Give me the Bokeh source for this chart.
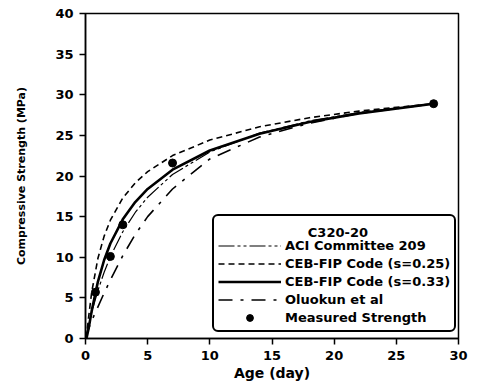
from bokeh.plotting import figure
from bokeh.models import Range1d, FixedTicker, Legend, LegendItem, ColumnDataSource, Label
from bokeh.embed import file_html
from bokeh.resources import INLINE

# ---- data ----
ages = [0, 0.1, 0.25, 0.5, 1, 1.5, 2, 3, 4, 5, 7, 10, 14, 18, 22, 28]
aci_209 = [0, 0.70, 1.70, 3.24, 5.92, 8.16, 10.07, 13.14, 15.51, 17.39, 20.19, 22.96, 25.27, 26.77, 27.81, 28.9]
ceb_025 = [0, 0.57, 2.64, 5.71, 9.88, 12.60, 14.56, 17.29, 19.15, 20.54, 22.51, 24.42, 26.06, 27.17, 27.99, 28.9]
ceb_033 = [0, 0.16, 1.23, 3.40, 7.01, 9.66, 11.69, 14.67, 16.79, 18.41, 20.78, 23.14, 25.21, 26.64, 27.71, 28.9]
oluokun = [0, 0.5, 1.2, 2.2, 3.9, 5.6, 7.2, 10.2, 12.8, 15.0, 18.4, 22.1, 24.8, 26.5, 27.7, 28.9]

measured_age = [0.8, 2, 3, 7, 28]
measured_strength = [5.7, 10.1, 14.0, 21.6, 28.9]

x_ticks = [0, 5, 10, 15, 20, 25, 30]
y_ticks = [0, 5, 10, 15, 20, 25, 30, 35, 40]

legend_title = "C320-20"
labels = ["ACI Committee 209", "CEB-FIP Code (s=0.25)", "CEB-FIP Code (s=0.33)",
          "Oluokun et al", "Measured Strength"]

FONT = "DejaVu Sans"

p = figure(width=470, height=384, output_backend="svg", toolbar_location=None,
           x_range=Range1d(0, 30), y_range=Range1d(0, 40),
           min_border_left=85, min_border_right=12, min_border_top=13, min_border_bottom=46)

p.background_fill_color = "white"
p.border_fill_color = "white"
p.outline_line_color = "black"
p.outline_line_width = 1.5
p.xgrid.visible = False
p.ygrid.visible = False

p.xaxis.ticker = FixedTicker(ticks=x_ticks)
p.yaxis.ticker = FixedTicker(ticks=y_ticks)
for ax in (p.xaxis, p.yaxis):
    ax.axis_line_color = "black"
    ax.axis_line_width = 1.5
    ax.major_tick_line_color = "black"
    ax.major_tick_line_width = 1.5
    ax.major_tick_out = 6
    ax.major_tick_in = 0
    ax.minor_tick_line_color = None
    ax.major_label_text_font = FONT
    ax.major_label_text_font_style = "bold"
    ax.major_label_text_font_size = "13px"
    ax.major_label_text_color = "black"
    ax.axis_label_text_font = FONT
    ax.axis_label_text_font_style = "bold"
    ax.axis_label_text_color = "black"

p.xaxis.axis_label = "Age (day)"
p.xaxis.axis_label_text_font_size = "14px"
p.xaxis.major_label_standoff = 6
p.xaxis.axis_label_standoff = 2

p.yaxis.axis_label = "Compressive Strength (MPa)"
p.yaxis.axis_label_text_font_size = "11px"
p.yaxis.major_label_standoff = 6
p.yaxis.axis_label_standoff = 24

src = ColumnDataSource(dict(t=ages, aci=aci_209, c25=ceb_025, c33=ceb_033, ol=oluokun))
r_aci = p.line("t", "aci", source=src, line_color="black", line_width=1.2, line_dash="16 3 3 3 3 3")
r_c25 = p.line("t", "c25", source=src, line_color="black", line_width=1.6, line_dash="6 4")
r_c33 = p.line("t", "c33", source=src, line_color="black", line_width=2.6)
r_ol = p.line("t", "ol", source=src, line_color="black", line_width=1.6, line_dash="14 8 3 8")
r_m = p.scatter(measured_age, measured_strength, marker="circle", size=8,
                fill_color="black", line_color="black")

# centred legend title (annotation over the legend's title row)
title_lbl = Label(x=20.3, y=13.0, text=legend_title, text_align="center", text_baseline="middle",
                  text_font=FONT, text_font_style="bold", text_font_size="13px", text_color="black")
p.add_layout(title_lbl)

legend = Legend(items=[LegendItem(label=labels[0], renderers=[r_aci]),
                       LegendItem(label=labels[1], renderers=[r_c25]),
                       LegendItem(label=labels[2], renderers=[r_c33]),
                       LegendItem(label=labels[3], renderers=[r_ol]),
                       LegendItem(label=labels[4], renderers=[r_m])],
                location=(127, 6), title=legend_title)
legend.title_text_font = FONT
legend.title_text_font_style = "bold"
legend.title_text_font_size = "13px"
legend.title_text_alpha = 0.0
legend.title_standoff = 2
legend.label_text_font = FONT
legend.label_text_font_style = "bold"
legend.label_text_font_size = "13px"
legend.label_text_color = "black"
legend.glyph_width = 63
legend.glyph_height = 17
legend.label_height = 17
legend.spacing = 1
legend.padding = 4
legend.label_standoff = 4
legend.margin = 0
legend.border_line_color = "black"
legend.border_line_width = 2
legend.border_line_alpha = 1.0
legend.background_fill_alpha = 0.0
if "border_radius" in Legend.properties():
    legend.border_radius = 6
p.add_layout(legend, "center")

open("out.html", "w").write(file_html(p, INLINE))
